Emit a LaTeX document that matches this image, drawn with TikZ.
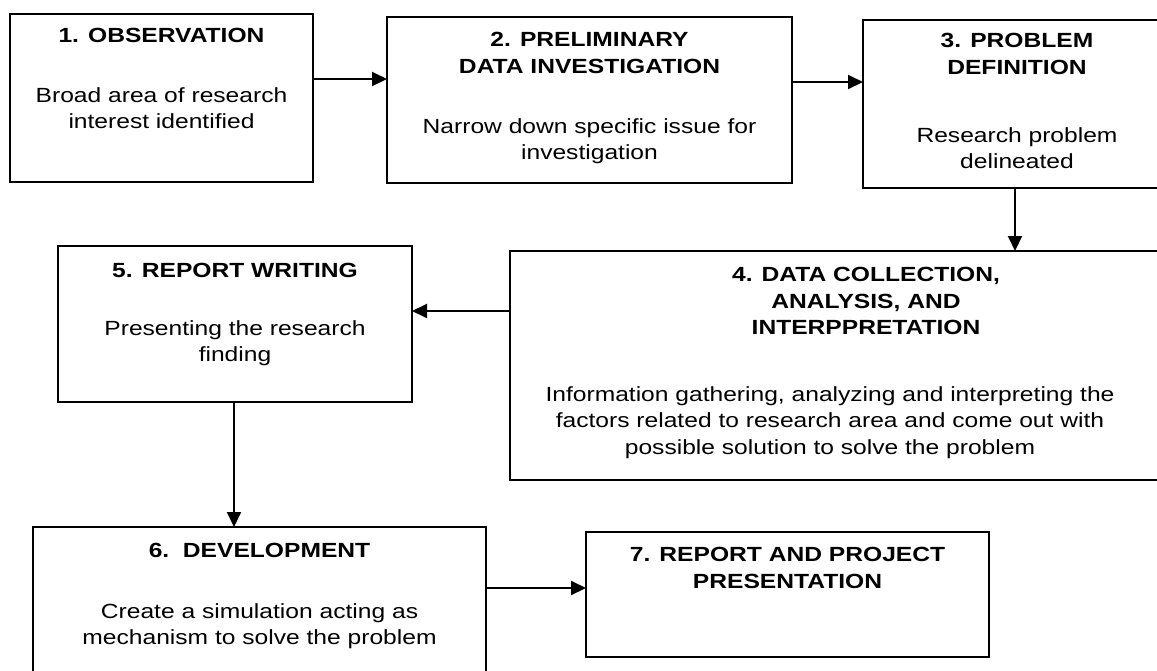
\documentclass[tikz,border=0pt]{standalone}
\usepackage{fontspec}
\setmainfont[FakeStretch=1.2]{Liberation Sans}
\usetikzlibrary{arrows.meta}
\begin{document}
\begin{tikzpicture}[x=1pt,y=-1pt,
  box/.style={draw, line width=2.6pt, rectangle, inner sep=0pt, outer sep=0pt},
  ttl/.style={font=\fontsize{20.5}{26.5}\selectfont\bfseries, align=center, anchor=north, inner sep=0pt},
  txt/.style={font=\fontsize{20.5}{26.5}\selectfont, align=center, anchor=north, inner sep=0pt},
  arr/.style={line width=2pt, -{Triangle[length=15pt,width=14pt]}}]
\useasboundingbox (0,0) rectangle (1157,670);
\clip (0,0) rectangle (1157,670);
% boxes
\node[box, minimum width=303pt, minimum height=168pt] (b1) at (161.5,98) {};
\node[box, minimum width=405pt, minimum height=166pt] (b2) at (589.5,100) {};
\node[box, minimum width=308pt, minimum height=168pt] (b3) at (1017,104) {};
\node[box, minimum width=655pt, minimum height=229pt] (b4) at (837.5,365.5) {};
\node[box, minimum width=354pt, minimum height=156pt] (b5) at (235,324) {};
\node[box, minimum width=453pt, minimum height=173pt] (b6) at (259.5,613.5) {};
\node[box, minimum width=403pt, minimum height=125pt] (b7) at (787.5,594.5) {};
% texts
\node[ttl] (t1) at (161.5,28) {1. OBSERVATION};
\node[txt] (d1) at (161.5,87) {Broad area of research\\interest identified};
\node[ttl] (t2) at (589.5,32) {2. PRELIMINARY\\DATA INVESTIGATION};
\node[txt] (d2) at (589.5,118) {Narrow down specific issue for\\investigation};
\node[ttl] (t3) at (1017,33) {3. PROBLEM\\DEFINITION};
\node[txt] (d3) at (1017,127) {Research problem\\delineated};
\node[ttl] (t4) at (866,267) {4. DATA COLLECTION,\\ANALYSIS, AND\\INTERPPRETATION};
\node[txt] (d4) at (830,386) {Information gathering, analyzing and interpreting the\\factors related to research area and come out with\\possible solution to solve the problem};
\node[ttl] (t5) at (235,263) {5. REPORT WRITING};
\node[txt] (d5) at (235,320) {Presenting the research\\finding};
\node[ttl] (t6) at (259.5,543) {6.\ \ DEVELOPMENT};
\node[txt] (d6) at (259.5,603) {Create a simulation acting as\\mechanism to solve the problem};
\node[ttl] (t7) at (787.5,547) {7. REPORT AND PROJECT\\PRESENTATION};
% connectors
\draw[arr] ([yshift=-65pt]b1.north east) -- ([yshift=-65pt]b1.north east -| b2.west);
\draw[arr] ([yshift=-65pt]b2.north east) -- ([yshift=-65pt]b2.north east -| b3.west);
\draw[arr] ([xshift=-2pt]b3.south) -- ([xshift=-2pt]b3.south |- b4.north);
\draw[arr] ([yshift=-60pt]b4.north west) -- ([yshift=-60pt]b4.north west -| b5.east);
\draw[arr] ([xshift=-1pt]b5.south) -- ([xshift=-1pt]b5.south |- b6.north);
\draw[arr] ([yshift=-61pt]b6.north east) -- ([yshift=-61pt]b6.north east -| b7.west);
\end{tikzpicture}
\end{document}
